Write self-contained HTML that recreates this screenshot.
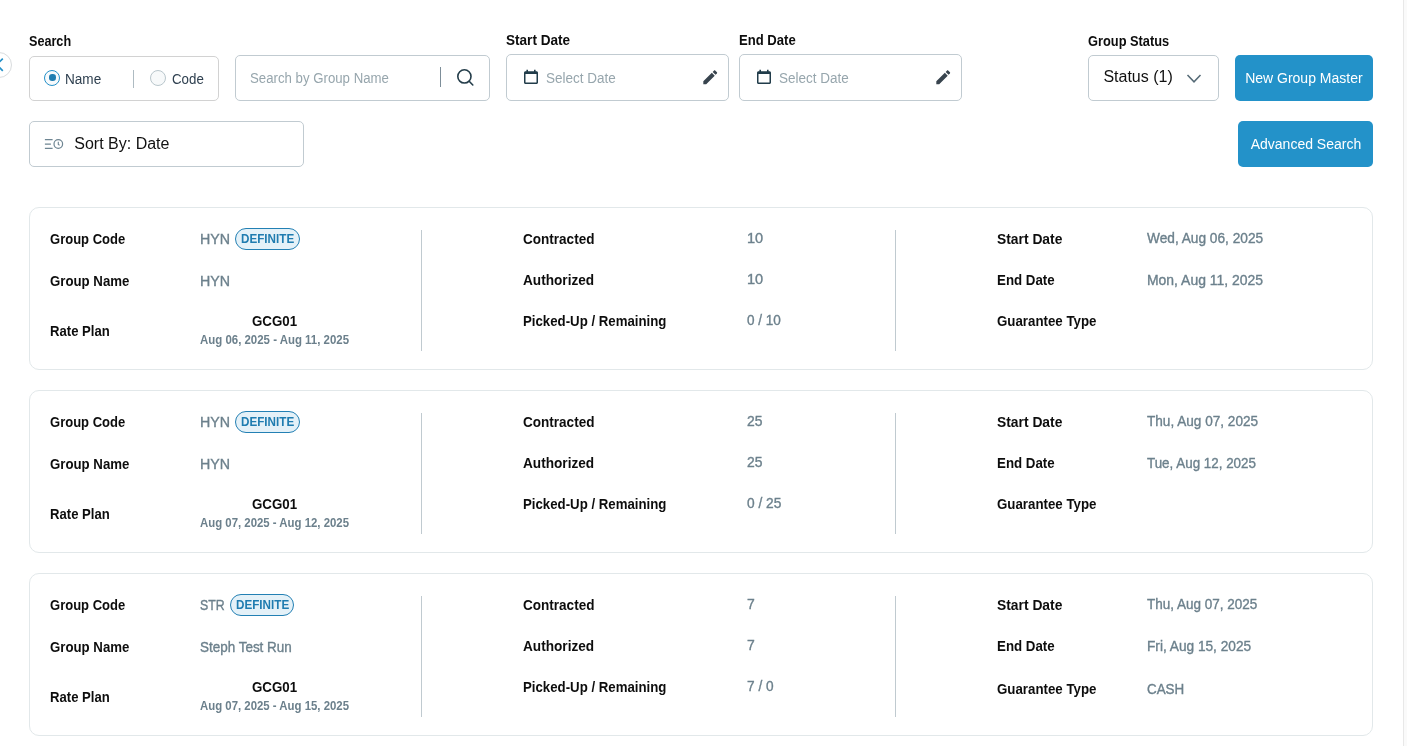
<!DOCTYPE html>
<html lang="en"><head><meta charset="utf-8"><title>Group Master Search</title>
<style>
html,body{margin:0;padding:0;background:#fff;}
body{width:1407px;height:746px;position:relative;overflow:hidden;font-family:"Liberation Sans",sans-serif;color:#0d0d0d;}
.t{position:absolute;white-space:nowrap;line-height:20px;font-size:14px;transform-origin:0 0;}
.v{-webkit-text-stroke:0.35px currentColor;}
.box{position:absolute;box-sizing:border-box;border:1px solid #c1cbd1;border-radius:5px;background:#fff;}
.btn{position:absolute;background:#2392c9;border-radius:5px;}
.card{position:absolute;left:29px;width:1344px;height:163px;box-sizing:border-box;border:1px solid #e2e8ea;border-radius:10px;background:#fff;}
.vd{position:absolute;width:1px;height:121px;background:#c0cad0;}
.badge{position:absolute;box-sizing:border-box;height:22px;border:1px solid #2380b4;border-radius:11px;background:#e4f1f8;}
svg{position:absolute;overflow:visible;}
</style></head><body>
<!-- left collapse handle -->
<div style="position:absolute;left:-14px;top:52px;width:26px;height:26px;box-sizing:border-box;border:1px solid #d9dcde;border-radius:50%;background:#fff;"></div>
<svg style="left:0;top:57px" width="8" height="16" viewBox="0 0 8 16"><path d="M2.8 1.6 L-3.3 7.7 L2.8 13.8" fill="none" stroke="#2490c8" stroke-width="1.7"/></svg>
<!-- right scrollbar track -->
<div style="position:absolute;left:1403px;top:0;width:4px;height:746px;background:#fafafa;border-left:1px solid #e8e8e8;box-sizing:border-box;"></div>

<!-- search type radios -->
<div class="box" style="left:29px;top:56px;width:190px;height:45px;border-color:#d2d2d2;"></div>
<div style="position:absolute;left:44px;top:70px;width:16px;height:16px;box-sizing:border-box;border:1px solid #2490c8;border-radius:50%;background:#f7fafc;"></div>
<div style="position:absolute;left:48.8px;top:73.8px;width:7.6px;height:7.6px;border-radius:42%;background:#1f7db1;"></div>
<div style="position:absolute;left:133px;top:70px;width:1px;height:18px;background:#aebbc2;"></div>
<div style="position:absolute;left:150px;top:70px;width:16px;height:16px;box-sizing:border-box;border:1px solid #b9c6cc;border-radius:50%;background:#f7f9fa;"></div>

<!-- search input -->
<div class="box" style="left:235px;top:55px;width:255px;height:46px;"></div>
<div style="position:absolute;left:440px;top:67px;width:1px;height:20px;background:#7d8e99;"></div>
<svg style="left:455px;top:67px" width="20" height="20" viewBox="0 0 20 20"><circle cx="9.4" cy="9.4" r="6.6" fill="none" stroke="#243d4a" stroke-width="1.6"/><path d="M14.2 14.3 L17.8 18" stroke="#243d4a" stroke-width="1.6" stroke-linecap="round"/></svg>

<!-- date boxes -->
<div class="box" style="left:506px;top:54px;width:223px;height:47px;"></div>
<div class="box" style="left:739px;top:54px;width:223px;height:47px;"></div>
<svg style="left:524px;top:69px" width="14" height="16" viewBox="0 0 14 16"><path d="M2.4 0.8h1.6v1.4h6V0.8h1.6v1.4h0.9c0.8 0 1.5 0.7 1.5 1.5v9.9c0 0.8-0.7 1.5-1.5 1.5H1.5c-0.8 0-1.5-0.7-1.5-1.5V3.7c0-0.8 0.7-1.5 1.5-1.5h0.9zM1.5 5v8.6h11V5z" fill="#213c4a" fill-rule="evenodd"/></svg>
<svg style="left:757px;top:69px" width="14" height="16" viewBox="0 0 14 16"><path d="M2.4 0.8h1.6v1.4h6V0.8h1.6v1.4h0.9c0.8 0 1.5 0.7 1.5 1.5v9.9c0 0.8-0.7 1.5-1.5 1.5H1.5c-0.8 0-1.5-0.7-1.5-1.5V3.7c0-0.8 0.7-1.5 1.5-1.5h0.9zM1.5 5v8.6h11V5z" fill="#213c4a" fill-rule="evenodd"/></svg>
<svg style="left:700.5px;top:67.8px" width="18.5" height="18.5" viewBox="0 0 24 24"><path d="M3 17.25V21h3.75L17.81 9.94l-3.75-3.75L3 17.25zM20.71 7.04c.39-.39.39-1.02 0-1.41l-2.34-2.34c-.39-.39-1.02-.39-1.41 0l-1.83 1.83 3.75 3.75 1.83-1.83z" fill="#38444e"/></svg>
<svg style="left:933.5px;top:67.8px" width="18.5" height="18.5" viewBox="0 0 24 24"><path d="M3 17.25V21h3.75L17.81 9.94l-3.75-3.75L3 17.25zM20.71 7.04c.39-.39.39-1.02 0-1.41l-2.34-2.34c-.39-.39-1.02-.39-1.41 0l-1.83 1.83 3.75 3.75 1.83-1.83z" fill="#38444e"/></svg>

<!-- status select + buttons -->
<div class="box" style="left:1088px;top:55px;width:131px;height:46px;"></div>
<svg style="left:1186px;top:73px" width="16" height="10" viewBox="0 0 16 10"><path d="M1.5 1.9 L8 8.8 L14.5 1.9" fill="none" stroke="#556a76" stroke-width="1.5"/></svg>
<div class="btn" style="left:1235px;top:55px;width:138px;height:46px;"></div>
<div class="btn" style="left:1238px;top:121px;width:135px;height:46px;"></div>

<!-- sort box -->
<div class="box" style="left:29px;top:121px;width:275px;height:46px;"></div>
<svg style="left:44px;top:138px" width="20" height="12" viewBox="0 0 20 12"><path d="M0.9 1.7h7.7M0.9 6.1h6M0.9 10.3h7.7" stroke="#6e8592" stroke-width="1.3" fill="none"/><circle cx="14.3" cy="6" r="4.3" fill="none" stroke="#6e8592" stroke-width="1.2"/><path d="M14.3 3.8v2.7l1.3 0.7" fill="none" stroke="#6e8592" stroke-width="1.1"/></svg>

<!-- cards -->
<div class="card" style="top:207px;"></div>
<div class="card" style="top:390px;"></div>
<div class="card" style="top:573px;"></div>
<div class="vd" style="left:421px;top:230px;"></div><div class="vd" style="left:895px;top:230px;"></div>
<div class="vd" style="left:421px;top:413px;"></div><div class="vd" style="left:895px;top:413px;"></div>
<div class="vd" style="left:421px;top:596px;"></div><div class="vd" style="left:895px;top:596px;"></div>
<div class="badge" style="left:235px;top:228px;width:65px;"></div>
<div class="badge" style="left:235px;top:411px;width:65px;"></div>
<div class="badge" style="left:230px;top:594px;width:64px;"></div>
<span class="t" style="left:29.00px;top:31.10px;font-size:15px;transform:scaleX(0.8415);font-weight:700;">Search</span>
<span class="t" style="left:506.00px;top:30.10px;font-size:15px;transform:scaleX(0.9041);font-weight:700;">Start Date</span>
<span class="t" style="left:739.00px;top:30.10px;font-size:15px;transform:scaleX(0.8723);font-weight:700;">End Date</span>
<span class="t" style="left:1088.00px;top:31.10px;font-size:15px;transform:scaleX(0.8550);font-weight:700;">Group Status</span>
<span class="t" style="left:65.00px;top:69.45px;transform:scaleX(0.9706);color:#2f4050;">Name</span>
<span class="t" style="left:172.00px;top:69.45px;transform:scaleX(0.9505);color:#2f4050;">Code</span>
<span class="t" style="left:250.00px;top:68.45px;transform:scaleX(0.9446);color:#97a6ad;">Search by Group Name</span>
<span class="t" style="left:546.00px;top:68.45px;transform:scaleX(0.9651);color:#97a6ad;">Select Date</span>
<span class="t" style="left:779.00px;top:68.45px;transform:scaleX(0.9651);color:#97a6ad;">Select Date</span>
<span class="t" style="left:1103.38px;top:66.76px;font-size:16px;color:#111;">Status (1)</span>
<span class="t" style="left:1245.13px;top:68.45px;color:#fff;">New Group Master</span>
<span class="t" style="left:74.29px;top:133.76px;font-size:16px;color:#111;">Sort By: Date</span>
<span class="t" style="left:1250.69px;top:134.45px;color:#fff;">Advanced Search</span>
<span class="t" style="left:50.00px;top:229.10px;font-size:15px;transform:scaleX(0.8684);font-weight:700;">Group Code</span>
<span class="t" style="left:50.00px;top:271.10px;font-size:15px;transform:scaleX(0.8818);font-weight:700;">Group Name</span>
<span class="t" style="left:50.00px;top:321.10px;font-size:15px;transform:scaleX(0.8744);font-weight:700;">Rate Plan</span>
<span class="t v" style="left:200.00px;top:229.45px;transform:scaleX(1.0164);color:#6c808c;">HYN</span>
<span class="t v" style="left:200.00px;top:271.45px;transform:scaleX(1.0164);color:#6c808c;">HYN</span>
<span class="t" style="left:241.00px;top:229.14px;font-size:12px;transform:scaleX(0.9726);font-weight:700;color:#1f7cb0;">DEFINITE</span>
<span class="t" style="left:252.00px;top:311.45px;transform:scaleX(0.9506);font-weight:700;">GCG01</span>
<span class="t" style="left:200.00px;top:330.14px;font-size:12px;transform:scaleX(0.9535);font-weight:700;color:#6c808c;">Aug 06, 2025 - Aug 11, 2025</span>
<span class="t" style="left:523.00px;top:229.10px;font-size:15px;transform:scaleX(0.9023);font-weight:700;">Contracted</span>
<span class="t" style="left:523.00px;top:270.10px;font-size:15px;transform:scaleX(0.9085);font-weight:700;">Authorized</span>
<span class="t" style="left:523.00px;top:311.10px;font-size:15px;transform:scaleX(0.8826);font-weight:700;">Picked-Up / Remaining</span>
<span class="t v" style="left:747.00px;top:228.45px;transform:scaleX(1.0401);color:#6c808c;">10</span>
<span class="t v" style="left:747.00px;top:269.45px;transform:scaleX(1.0401);color:#6c808c;">10</span>
<span class="t v" style="left:747.00px;top:310.45px;transform:scaleX(0.9681);color:#6c808c;">0 / 10</span>
<span class="t" style="left:997.00px;top:229.10px;font-size:15px;transform:scaleX(0.9227);font-weight:700;">Start Date</span>
<span class="t" style="left:997.00px;top:270.10px;font-size:15px;transform:scaleX(0.8871);font-weight:700;">End Date</span>
<span class="t" style="left:997.00px;top:311.10px;font-size:15px;transform:scaleX(0.8863);font-weight:700;">Guarantee Type</span>
<span class="t v" style="left:1147.00px;top:228.45px;transform:scaleX(0.9771);color:#6c808c;">Wed, Aug 06, 2025</span>
<span class="t v" style="left:1147.00px;top:270.45px;transform:scaleX(0.9958);color:#6c808c;">Mon, Aug 11, 2025</span>
<span class="t" style="left:50.00px;top:412.10px;font-size:15px;transform:scaleX(0.8684);font-weight:700;">Group Code</span>
<span class="t" style="left:50.00px;top:454.10px;font-size:15px;transform:scaleX(0.8818);font-weight:700;">Group Name</span>
<span class="t" style="left:50.00px;top:504.10px;font-size:15px;transform:scaleX(0.8744);font-weight:700;">Rate Plan</span>
<span class="t v" style="left:200.00px;top:412.45px;transform:scaleX(1.0164);color:#6c808c;">HYN</span>
<span class="t v" style="left:200.00px;top:454.45px;transform:scaleX(1.0164);color:#6c808c;">HYN</span>
<span class="t" style="left:241.00px;top:412.14px;font-size:12px;transform:scaleX(0.9726);font-weight:700;color:#1f7cb0;">DEFINITE</span>
<span class="t" style="left:252.00px;top:494.45px;transform:scaleX(0.9506);font-weight:700;">GCG01</span>
<span class="t" style="left:200.00px;top:513.14px;font-size:12px;transform:scaleX(0.9495);font-weight:700;color:#6c808c;">Aug 07, 2025 - Aug 12, 2025</span>
<span class="t" style="left:523.00px;top:412.10px;font-size:15px;transform:scaleX(0.9023);font-weight:700;">Contracted</span>
<span class="t" style="left:523.00px;top:453.10px;font-size:15px;transform:scaleX(0.9085);font-weight:700;">Authorized</span>
<span class="t" style="left:523.00px;top:494.10px;font-size:15px;transform:scaleX(0.8826);font-weight:700;">Picked-Up / Remaining</span>
<span class="t v" style="left:747.00px;top:411.45px;transform:scaleX(0.9931);color:#6c808c;">25</span>
<span class="t v" style="left:747.00px;top:452.45px;transform:scaleX(0.9931);color:#6c808c;">25</span>
<span class="t v" style="left:747.00px;top:493.45px;transform:scaleX(0.9810);color:#6c808c;">0 / 25</span>
<span class="t" style="left:997.00px;top:412.10px;font-size:15px;transform:scaleX(0.9227);font-weight:700;">Start Date</span>
<span class="t" style="left:997.00px;top:453.10px;font-size:15px;transform:scaleX(0.8871);font-weight:700;">End Date</span>
<span class="t" style="left:997.00px;top:494.10px;font-size:15px;transform:scaleX(0.8863);font-weight:700;">Guarantee Type</span>
<span class="t v" style="left:1147.00px;top:411.45px;transform:scaleX(0.9710);color:#6c808c;">Thu, Aug 07, 2025</span>
<span class="t v" style="left:1147.00px;top:453.45px;transform:scaleX(0.9561);color:#6c808c;">Tue, Aug 12, 2025</span>
<span class="t" style="left:50.00px;top:595.10px;font-size:15px;transform:scaleX(0.8684);font-weight:700;">Group Code</span>
<span class="t" style="left:50.00px;top:637.10px;font-size:15px;transform:scaleX(0.8818);font-weight:700;">Group Name</span>
<span class="t" style="left:50.00px;top:687.10px;font-size:15px;transform:scaleX(0.8744);font-weight:700;">Rate Plan</span>
<span class="t v" style="left:200.00px;top:595.45px;transform:scaleX(0.8796);color:#6c808c;">STR</span>
<span class="t v" style="left:200.00px;top:637.45px;transform:scaleX(0.9615);color:#6c808c;">Steph Test Run</span>
<span class="t" style="left:236.00px;top:595.14px;font-size:12px;transform:scaleX(0.9726);font-weight:700;color:#1f7cb0;">DEFINITE</span>
<span class="t" style="left:252.00px;top:677.45px;transform:scaleX(0.9506);font-weight:700;">GCG01</span>
<span class="t" style="left:200.00px;top:696.14px;font-size:12px;transform:scaleX(0.9495);font-weight:700;color:#6c808c;">Aug 07, 2025 - Aug 15, 2025</span>
<span class="t" style="left:523.00px;top:595.10px;font-size:15px;transform:scaleX(0.9023);font-weight:700;">Contracted</span>
<span class="t" style="left:523.00px;top:636.10px;font-size:15px;transform:scaleX(0.9085);font-weight:700;">Authorized</span>
<span class="t" style="left:523.00px;top:677.10px;font-size:15px;transform:scaleX(0.8826);font-weight:700;">Picked-Up / Remaining</span>
<span class="t v" style="left:747.00px;top:594.45px;transform:scaleX(0.9969);color:#6c808c;">7</span>
<span class="t v" style="left:747.00px;top:635.45px;transform:scaleX(0.9969);color:#6c808c;">7</span>
<span class="t v" style="left:747.00px;top:676.45px;transform:scaleX(0.9748);color:#6c808c;">7 / 0</span>
<span class="t" style="left:997.00px;top:595.10px;font-size:15px;transform:scaleX(0.9227);font-weight:700;">Start Date</span>
<span class="t" style="left:997.00px;top:636.10px;font-size:15px;transform:scaleX(0.8871);font-weight:700;">End Date</span>
<span class="t" style="left:997.00px;top:679.10px;font-size:15px;transform:scaleX(0.8863);font-weight:700;">Guarantee Type</span>
<span class="t v" style="left:1147.00px;top:594.45px;transform:scaleX(0.9640);color:#6c808c;">Thu, Aug 07, 2025</span>
<span class="t v" style="left:1147.00px;top:636.45px;transform:scaleX(0.9762);color:#6c808c;">Fri, Aug 15, 2025</span>
<span class="t v" style="left:1147.00px;top:679.45px;transform:scaleX(0.9570);color:#6c808c;">CASH</span>
</body></html>
